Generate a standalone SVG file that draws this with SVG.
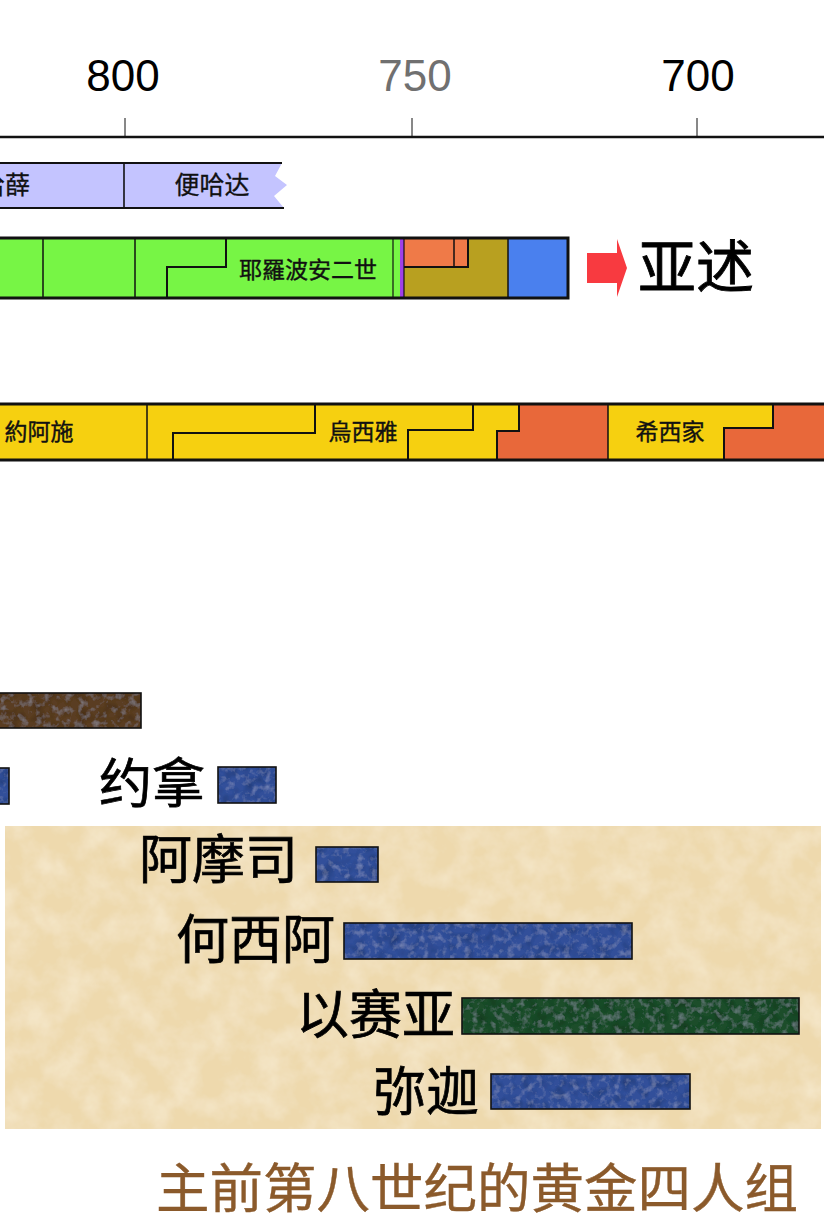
<svg xmlns="http://www.w3.org/2000/svg" width="824" height="1232" viewBox="0 0 824 1232">
<style>
.ax{font-family:"Liberation Sans",Arial,sans-serif;font-size:44px;text-anchor:middle}
.sm{font-family:"Noto Sans CJK SC","Noto Sans CJK TC",sans-serif;font-size:23px;fill:#111;text-anchor:middle;stroke:#111;stroke-width:0.4}
.big{font-family:"Noto Sans CJK SC",sans-serif;font-size:53px;fill:#000;text-anchor:end;stroke:#000;stroke-width:0.7}
.ln{stroke:#111;fill:none}
.bar{stroke:#111;stroke-width:1.6;fill:none}
</style>
<defs>
<filter id="tex" x="0" y="0" width="1" height="1">
<feTurbulence type="fractalNoise" baseFrequency="0.14" numOctaves="3" seed="4" result="n"/>
<feColorMatrix in="n" type="matrix" values="0 0 0 0 0.7 0 0 0 0 0.8 0 0 0 0 1 0.45 0 0 0 -0.22" result="w"/>
<feComposite in="w" in2="SourceGraphic" operator="in" result="wc"/>
<feTurbulence type="fractalNoise" baseFrequency="0.09" numOctaves="2" seed="11" result="n2"/>
<feColorMatrix in="n2" type="matrix" values="0 0 0 0 0 0 0 0 0 0 0 0 0 0 0 0.8 0 0 0 -0.35" result="k"/>
<feComposite in="k" in2="SourceGraphic" operator="in" result="kc"/>
<feMerge><feMergeNode in="SourceGraphic"/><feMergeNode in="kc"/><feMergeNode in="wc"/></feMerge>
</filter>
<filter id="parch" x="0" y="0" width="1" height="1">
<feTurbulence type="fractalNoise" baseFrequency="0.035" numOctaves="4" seed="7" result="n"/>
<feColorMatrix in="n" type="matrix" values="0 0 0 0 1 0 0 0 0 0.96 0 0 0 0 0.85 0.7 0 0 0 -0.25" result="d"/>
<feComposite in="d" in2="SourceGraphic" operator="in" result="dc"/>
<feMerge><feMergeNode in="SourceGraphic"/><feMergeNode in="dc"/></feMerge>
</filter>
</defs>
<rect width="824" height="1232" fill="#fff"/>

<g id="axis">
<line x1="0" y1="137" x2="824" y2="137" stroke="#111" stroke-width="2.5"/>
<line x1="125" y1="118" x2="125" y2="137" stroke="#111" stroke-width="1"/>
<line x1="412" y1="118" x2="412" y2="137" stroke="#111" stroke-width="1"/>
<line x1="697" y1="118" x2="697" y2="137" stroke="#111" stroke-width="1"/>
<text class="ax" x="123" y="91" fill="#000">800</text>
<text class="ax" x="415" y="91" fill="#707070">750</text>
<text class="ax" x="698" y="91" fill="#000">700</text>
</g>

<g id="row-aram">
<path d="M-5,163 L282,163 L275,176 L287,185 L274,196 L284,208 L-5,208 Z" fill="#c4c4ff"/>
<line class="ln" x1="0" y1="163" x2="282" y2="163" stroke-width="1.8"/>
<line class="ln" x1="0" y1="208" x2="284" y2="208" stroke-width="1.8"/>
<line class="ln" x1="124" y1="163" x2="124" y2="208" stroke-width="1.6"/>
<text class="sm" x="30" y="194" style="font-size:25px;text-anchor:end;stroke-width:0.3">哈薛</text>
<text class="sm" x="212" y="194" style="font-size:25px;stroke-width:0.3">便哈达</text>
</g>

<g id="row-israel">
<rect x="-5" y="238" width="405" height="60" fill="#77f545"/>
<rect x="400" y="238" width="4" height="60" fill="#a040e8"/>
<rect x="404" y="238" width="104" height="60" fill="#b8a020"/>
<rect x="404" y="238" width="64" height="29" fill="#ef7a48"/>
<rect x="508" y="238" width="60" height="60" fill="#4a80ee"/>
<line class="ln" x1="43" y1="238" x2="43" y2="298" stroke-width="1.5"/>
<line class="ln" x1="135" y1="238" x2="135" y2="298" stroke-width="1.5"/>
<path class="ln" d="M167,298 V267 H226 V238" stroke-width="2"/>
<line class="ln" x1="393" y1="238" x2="393" y2="298" stroke-width="1.2"/>
<line class="ln" x1="404" y1="238" x2="404" y2="298" stroke-width="1.2"/>
<path class="ln" d="M404,267 H468 V238" stroke-width="2"/>
<line class="ln" x1="454" y1="238" x2="454" y2="267" stroke-width="1.5"/>
<line class="ln" x1="508" y1="238" x2="508" y2="298" stroke-width="1.5"/>
<rect class="ln" x="-5" y="238" width="573" height="60" stroke-width="3"/>
<text class="sm" x="308" y="278">耶羅波安二世</text>
</g>

<g id="label-assyria">
<text x="638" y="288" style="font-family:'Noto Sans CJK SC',sans-serif;font-size:58px;fill:#000;stroke:#000;stroke-width:0.8">亚述</text>
</g>

<g id="row-judah">
<rect x="-5" y="404" width="834" height="56" fill="#f6d010"/>
<path d="M497,460 V431 H519 V404 H608 V460 Z" fill="#e8683a"/>
<path d="M724,460 V428 H773 V404 H830 V460 Z" fill="#e8683a"/>
<line class="ln" x1="147" y1="404" x2="147" y2="460" stroke-width="1.5"/>
<path class="ln" d="M173,460 V433 H315 V404" stroke-width="2"/>
<path class="ln" d="M408,460 V430 H473 V404" stroke-width="2"/>
<path class="ln" d="M497,460 V431 H519 V404" stroke-width="2"/>
<line class="ln" x1="608" y1="404" x2="608" y2="460" stroke-width="1.5"/>
<path class="ln" d="M724,460 V428 H773 V404" stroke-width="2"/>
<line class="ln" x1="-5" y1="404" x2="830" y2="404" stroke-width="3"/>
<line class="ln" x1="-5" y1="460" x2="830" y2="460" stroke-width="3"/>
<text class="sm" x="39" y="440">約阿施</text>
<text class="sm" x="363" y="440">烏西雅</text>
<text class="sm" x="670" y="440">希西家</text>
</g>

<g id="bar-brown">
<rect x="-5" y="693" width="146" height="35" fill="#5a3c22" filter="url(#tex)"/>
<rect class="bar" x="-5" y="693" width="146" height="35"/>
</g>

<g id="bar-left-blue">
<rect x="-5" y="768" width="14" height="36" fill="#30509a" filter="url(#tex)"/>
<rect class="bar" x="-5" y="768" width="14" height="36"/>
</g>

<g id="jonah">
<text class="big" x="205" y="803">约拿</text>
<rect x="218" y="767" width="58" height="36" fill="#30509a" filter="url(#tex)"/>
<rect class="bar" x="218" y="767" width="58" height="36"/>
</g>

<g id="parchment">
<rect x="5" y="826" width="816" height="303" fill="#eed9ad" filter="url(#parch)"/>
</g>

<g id="amos">
<text class="big" x="298" y="879">阿摩司</text>
<rect x="316" y="847" width="62" height="35" fill="#30509a" filter="url(#tex)"/>
<rect class="bar" x="316" y="847" width="62" height="35"/>
</g>

<g id="hosea">
<text class="big" x="335" y="959">何西阿</text>
<rect x="344" y="923" width="288" height="36" fill="#30509a" filter="url(#tex)"/>
<rect class="bar" x="344" y="923" width="288" height="36"/>
</g>

<g id="isaiah">
<text class="big" x="455" y="1034">以赛亚</text>
<rect x="462" y="998" width="337" height="36" fill="#1a4d2b" filter="url(#tex)"/>
<rect class="bar" x="462" y="998" width="337" height="36"/>
</g>

<g id="micah">
<text class="big" x="479" y="1111">弥迦</text>
<rect x="491" y="1074" width="199" height="35" fill="#30509a" filter="url(#tex)"/>
<rect class="bar" x="491" y="1074" width="199" height="35"/>
</g>

<g id="title">
<text x="156" y="1208" style="font-family:'Noto Sans CJK SC',sans-serif;font-size:53.5px;fill:#8b5a2b;stroke:#8b5a2b;stroke-width:0.4">主前第八世纪的黄金四人组</text>
</g>

<g id="connectors">
<path d="M587,253 H617 V239 L627,268 L617,297 V283 H587 Z" fill="#f83a40"/>
</g>
</svg>
